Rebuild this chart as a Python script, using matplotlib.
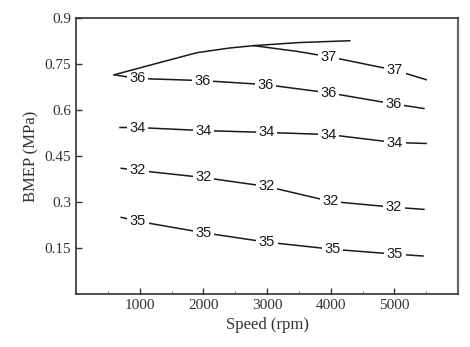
import matplotlib
matplotlib.use("Agg")
import matplotlib.pyplot as plt
from matplotlib.ticker import MultipleLocator

# boundary (full-load) curve
top_x = [600, 1300, 1900, 2400, 2790, 3500, 4300]
top_y = [0.715, 0.754, 0.787, 0.802, 0.81, 0.82, 0.826]

# iso-lines: x, y, label text, indices of labelled points
line37_x = [2790, 3480, 3970, 5010, 5500]
line37_y = [0.81, 0.791, 0.774, 0.730, 0.699]
line36_x = [600, 960, 1985, 2976, 3970, 4990, 5465]
line36_y = [0.715, 0.703, 0.696, 0.683, 0.656, 0.62, 0.605]
line34_x = [690, 960, 2000, 2990, 3970, 5010, 5500]
line34_y = [0.543, 0.543, 0.533, 0.527, 0.52, 0.494, 0.491]
line32_x = [710, 975, 2000, 2990, 4000, 4995, 5465]
line32_y = [0.41, 0.403, 0.38, 0.351, 0.302, 0.283, 0.276]
line35_x = [710, 975, 2000, 3000, 4030, 5010, 5450]
line35_y = [0.25, 0.237, 0.20, 0.169, 0.146, 0.13, 0.124]

lines = [
    (line37_x, line37_y, "37", [2, 3]),
    (line36_x, line36_y, "36", [1, 2, 3, 4, 5]),
    (line34_x, line34_y, "34", [1, 2, 3, 4, 5]),
    (line32_x, line32_y, "32", [1, 2, 3, 4, 5]),
    (line35_x, line35_y, "35", [1, 2, 3, 4, 5]),
]

fig = plt.figure(figsize=(4.7, 3.47), dpi=100)
ax = fig.add_axes([0.1617, 0.1527, 0.8128, 0.7953])

ax.plot(top_x, top_y, color="#1a1a1a", lw=1.1, zorder=5)
for xs, ys, lab, idx in lines:
    ax.plot(xs, ys, color="#1a1a1a", lw=1.1)
    for i in idx:
        ax.text(xs[i], ys[i], lab, ha="center", va="center", fontsize=10.5,
                family="Liberation Sans", color="#1a1a1a",
                bbox=dict(fc="white", ec="none", pad=1.8))

ax.set_xlim(0, 6000)
ax.set_ylim(0, 0.9)
ax.set_xticks([1000, 2000, 3000, 4000, 5000])
ax.xaxis.set_minor_locator(MultipleLocator(500))
ax.set_yticks([0.15, 0.3, 0.45, 0.6, 0.75, 0.9])
ax.set_yticklabels(["0.15", "0.3", "0.45", "0.6", "0.75", "0.9"])
ax.tick_params(which="major", direction="in", length=4, width=1, color="#333333")
ax.tick_params(which="minor", direction="in", length=2, width=0.6, color="#777777")
ax.tick_params(axis="y", which="minor", length=0)
for lbl in ax.get_xticklabels() + ax.get_yticklabels():
    lbl.set_family("Liberation Serif")
    lbl.set_fontsize(11)
    lbl.set_color("#333333")
for s in ax.spines.values():
    s.set_linewidth(1.2)
    s.set_color("#333333")
ax.spines["right"].set_color("#666666")
ax.spines["right"].set_linewidth(1.6)

ax.set_xlabel("Speed (rpm)", family="Liberation Serif", fontsize=12, color="#333333")
ax.set_ylabel("BMEP (MPa)", family="Liberation Serif", fontsize=12, color="#333333")

fig.savefig("out.png", dpi=100)
